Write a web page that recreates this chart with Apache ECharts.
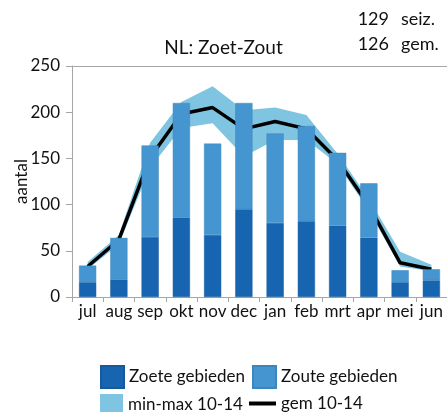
<!DOCTYPE html>
<html><head><meta charset="utf-8">
<script src="https://cdn.jsdelivr.net/npm/echarts@6/dist/echarts.min.js"></script>
<style>html,body{margin:0;padding:0;background:#fff}#c{width:447px;height:412px}</style>
</head><body><div id="c"></div>
<script>
const months = ['jul','aug','sep','okt','nov','dec','jan','feb','mrt','apr','mei','jun'];
const zoete = [16,19,65,86,67,95,80,82,77,64,16,18];
const zoute = [18,45,99,124,99,115,97,103,79,59,13,12];
const gem = [33,62,151,198,205,182,190,182,148,99,37,30];
const minVals = [30,57,140,183,188,152,170,170,144,93,33,28];
const maxVals = [38,67,167,211,228,202,205,197,155,106,49,35];
const yTicks = [0,50,100,150,200,250];

const FONT = 'Lato';
const totals = zoete.map((v,i)=>v+zoute[i]);
const seiz = Math.round(totals.reduce((a,b)=>a+b,0)/totals.length);
const gemAvg = Math.round(gem.reduce((a,b)=>a+b,0)/gem.length);
const spread = maxVals.map((v,i)=>v-minVals[i]);

const cDark = '#1765b0', cLight = '#4596d0', cBand = '#7fc4e1';
const chart = echarts.init(document.getElementById('c'), null, {renderer:'canvas'});
const axisGrey = '#a6a6a6';
const legendBase = {orient:'horizontal', itemHeight:22, itemWidth:23, textStyle:{fontFamily:FONT,fontSize:17,color:'#111'}, selectedMode:false, padding:0};
chart.setOption({
  animation:false,
  textStyle:{fontFamily:FONT},
  title:{text:'NL: Zoet-Zout', left:'center', top:33, textStyle:{fontFamily:FONT,fontSize:19,fontWeight:'normal',color:'#111'}},
  graphic:[
    {type:'text', right:58, top:10, style:{text:String(seiz), font:'18px '+FONT, fill:'#111', textAlign:'right'}},
    {type:'text', left:401, top:10, style:{text:'seiz.', font:'18px '+FONT, fill:'#111'}},
    {type:'text', right:58, top:35, style:{text:String(gemAvg), font:'18px '+FONT, fill:'#111', textAlign:'right'}},
    {type:'text', left:401, top:35, style:{text:'gem.', font:'18px '+FONT, fill:'#111'}}
  ],
  legend:[
    Object.assign({}, legendBase, {left:100, top:365, data:[{name:'Zoete gebieden', icon:'rect'}]}),
    Object.assign({}, legendBase, {left:252, top:365, data:[{name:'Zoute gebieden', icon:'rect'}]}),
    Object.assign({}, legendBase, {left:100, top:394, data:[{name:'min-max 10-14', icon:'rect'}]}),
    Object.assign({}, legendBase, {left:249, top:395, itemWidth:27, itemHeight:4, data:[{name:'gem 10-14', icon:'rect', itemStyle:{color:'#000'}}]})
  ],
  grid:{left:72, top:66, width:379, bottom:115, containLabel:false},
  xAxis:[
    {type:'category', data:months, boundaryGap:true,
     axisLine:{lineStyle:{color:axisGrey,width:1}},
     axisTick:{show:true, length:5, lineStyle:{color:axisGrey}},
     axisLabel:{color:'#111', fontFamily:FONT, fontSize:17, margin:6, interval:0}},
    {type:'category', data:months, position:'top',
     axisLine:{show:true, lineStyle:{color:axisGrey,width:1}},
     axisTick:{show:false}, axisLabel:{show:false}}
  ],
  yAxis:{type:'value', min:yTicks[0], max:yTicks[yTicks.length-1], interval:50,
    name:'aantal', nameLocation:'middle', nameGap:42, nameRotate:90, nameMoveOverlap:false,
    nameTextStyle:{fontFamily:FONT, fontSize:17, color:'#111'},
    axisLine:{show:true, lineStyle:{color:axisGrey}},
    axisTick:{show:true, length:6, lineStyle:{color:axisGrey}},
    splitLine:{show:false},
    axisLabel:{color:'#111', fontFamily:FONT, fontSize:17, margin:12}},
  series:[
    {name:'minband', type:'line', stack:'band', data:minVals, symbol:'none', lineStyle:{width:0,opacity:0}, z:1, silent:true},
    {name:'min-max 10-14', type:'line', stack:'band', data:spread, symbol:'none', color:cBand,
     lineStyle:{width:0,opacity:0}, areaStyle:{color:cBand, opacity:1}, itemStyle:{color:cBand}, z:1},
    {name:'gem 10-14', type:'line', data:gem, symbol:'none', color:'#000', lineStyle:{color:'#000', width:3.5}, z:2},
    {name:'Zoete gebieden', type:'bar', stack:'bars', data:zoete, barWidth:'55%', itemStyle:{color:cDark, borderColor:'#155a9c', borderWidth:0.5}, z:3},
    {name:'Zoute gebieden', type:'bar', stack:'bars', data:zoute, barWidth:'55%', itemStyle:{color:cLight, borderColor:'#3a86bd', borderWidth:0.5}, z:3}
  ]
});
</script></body></html>
